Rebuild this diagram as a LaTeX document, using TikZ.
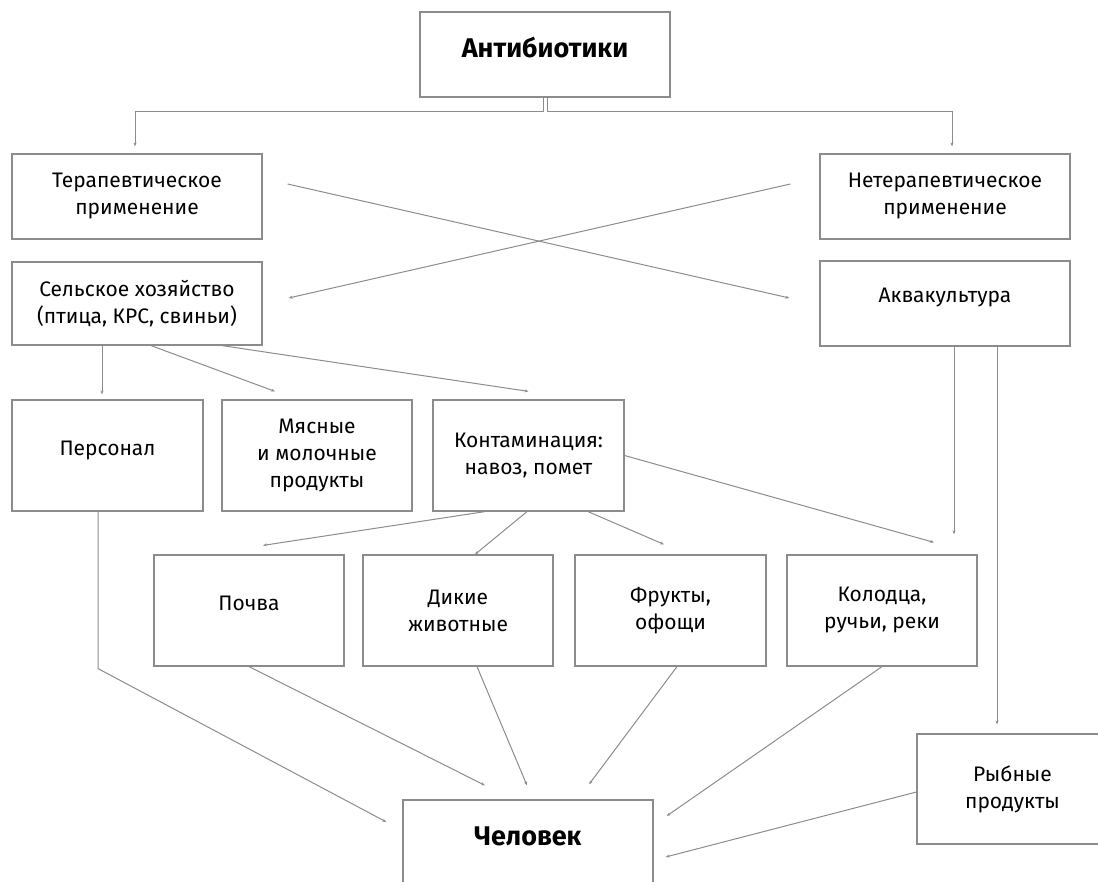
\documentclass[tikz,border=0pt]{standalone}
\usepackage{fontspec}
\setmainfont{Fira Sans}
\usetikzlibrary{arrows.meta}
\definecolor{linegray}{HTML}{8C8C8C}
\tikzset{
  box/.style 2 args={draw=linegray, line width=1.2pt, align=center, inner sep=0pt,
    minimum width=#1pt, minimum height=#2pt, font=\fontsize{21}{27}\selectfont},
  title/.style={font=\fontsize{27}{32}\selectfont\bfseries},
  conn/.style={draw=linegray, line width=1pt, -{Stealth[length=4pt,width=3pt]}},
}
\begin{document}
\begin{tikzpicture}[x = 1pt, y = -1pt]
  \useasboundingbox (0,0) rectangle (1098,882);
  % boxes
  \node[box={250}{85}, title, text depth=14pt] (anti) at (545,54.5) {Антибиотики};
  \node[box={250}{85}] (ter) at (137,196.5) {Терапевтическое\\применение};
  \node[box={250}{85}] (neter) at (945,196.5) {Нетерапевтическое\\применение};
  \node[box={250}{83}] (agro) at (137,303.5) {Сельское хозяйство\\(птица, КРС, свиньи)};
  \node[box={250}{85}, text depth=17pt] (aqua) at (945,303.5) {Аквакультура};
  \node[box={191}{111}, text depth=15pt] (staff) at (107.5,455.5) {Персонал};
  \node[box={190}{111}] (meat) at (317,455.5) {Мясные\\и молочные\\продукты};
  \node[box={191}{111}] (cont) at (528.5,455.5) {Контаминация:\\навоз, помет};
  \node[box={190}{111}, text depth=15pt] (soil) at (249,610.5) {Почва};
  \node[box={190}{111}] (wild) at (458,610.5) {Дикие\\животные};
  \node[box={191}{111}] (fruit) at (670.5,610.5) {Фрукты,\\офощи};
  \node[box={190}{111}] (water) at (882,610.5) {Колодца,\\ручьи, реки};
  \node[box={191}{110}] (fish) at (1012.5,789) {Рыбные\\продукты};
  \node[box={250}{100}, title, text depth=28pt] (human) at (528,850) {Человек};
  % connectors
  \draw[conn, shorten >=7pt] ([xshift=-2pt]anti.south) -- ++(0,14) -| ([xshift=-2pt]ter.north);
  \draw[conn, shorten >=7pt] ([xshift=2pt]anti.south) -- ++(0,14) -| ([xshift=7pt]neter.north);
  \draw[conn] ([xshift=25pt,yshift=12.5pt]ter.east) -- ([xshift=-30pt,yshift=5.5pt]aqua.west);
  \draw[conn] ([xshift=-29pt,yshift=12.5pt]neter.west) -- ([xshift=26pt,yshift=5.5pt]agro.east);
  \draw[conn, shorten >=5pt] ([xshift=-5.5pt]staff.north |- agro.south) -- ([xshift=-5.5pt]staff.north);
  \draw[conn] ([xshift=14pt]agro.south) -- ([xshift=-42pt,yshift=8pt]meat.north);
  \draw[conn] ([xshift=85pt]agro.south) -- ([yshift=8pt]cont.north);
  \draw[conn] ([xshift=-43.5pt]cont.south) -- ([xshift=14pt,yshift=9pt]soil.north);
  \draw[conn] ([xshift=-1.5pt]cont.south) -- ([xshift=17pt]wild.north);
  \draw[conn] ([xshift=59.5pt]cont.south) -- ([xshift=-6.5pt,yshift=10pt]fruit.north);
  \draw[conn] (cont.east) -- ([xshift=52pt,yshift=12pt]water.north);
  \draw[conn, shorten >=20pt] ([xshift=9pt]aqua.south) -- ([xshift=9pt]aqua.south |- water.north);
  \draw[conn, shorten >=9pt] ([xshift=52pt]aqua.south) -- ([xshift=52pt]aqua.south |- fish.north);
  \draw[conn] ([xshift=-9.5pt]staff.south) -- ++(0,157) -- ([xshift=-16pt,yshift=28pt]human.west);
  \draw[conn] (soil.south) -- ([xshift=-43pt,yshift=14pt]human.north);
  \draw[conn] ([xshift=19pt]wild.south) -- ([xshift=-1pt,yshift=14pt]human.north);
  \draw[conn] ([xshift=6.5pt]fruit.south) -- ([xshift=61pt,yshift=15pt]human.north);
  \draw[conn] (water.south) -- ([xshift=13pt,yshift=34pt]human.east);
  \draw[conn] ([yshift=-3pt]fish.west) -- ([xshift=12pt,yshift=-7pt]human.east);
\end{tikzpicture}
\end{document}
